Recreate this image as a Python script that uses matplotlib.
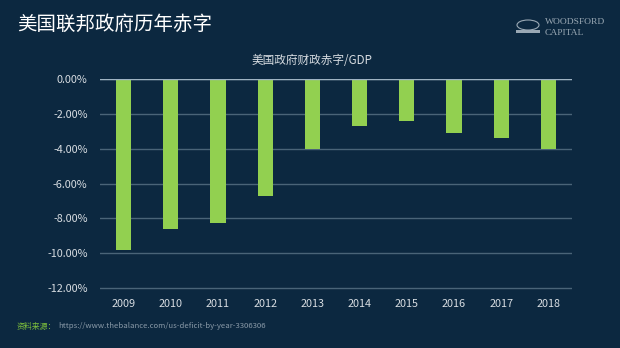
import matplotlib
matplotlib.use("Agg")
import matplotlib.pyplot as plt
from matplotlib.ticker import FuncFormatter
from matplotlib.patches import Ellipse, Rectangle

plt.rcParams['font.family'] = ['Noto Sans CJK SC', 'DejaVu Sans']

years = ['2009', '2010', '2011', '2012', '2013', '2014', '2015', '2016', '2017', '2018']
deficit_pct = [-9.8, -8.6, -8.3, -6.7, -4.0, -2.7, -2.4, -3.1, -3.4, -4.0]
yticks = [0, -2, -4, -6, -8, -10, -12]

title = '美国联邦政府历年赤字'
subtitle = '美国政府财政赤字/GDP'
source_label = '资料来源：'
source_url = 'https://www.thebalance.com/us-deficit-by-year-3306306'

bg = '#0c2840'
bar_color = '#92d050'
grid_color = '#4a6478'
text_color = '#d8dde2'

W, H = 620, 348
fig = plt.figure(figsize=(W / 100, H / 100), dpi=100, facecolor=bg)
ax = fig.add_axes([100 / W, 1 - 289.5 / H, 472 / W, (289.5 - 79.3) / H])
ax.set_facecolor(bg)

x = list(range(len(years)))
ax.bar(x, deficit_pct, width=0.32, color=bar_color, zorder=3)
ax.set_xlim(-0.5, len(years) - 0.5)
ax.set_ylim(-12.1, 0)
ax.set_yticks(yticks)
ax.yaxis.set_major_formatter(FuncFormatter(lambda v, p: f'{v:.2f}%'))
ax.set_xticks(x)
ax.set_xticklabels(years)
ax.grid(axis='y', color=grid_color, linewidth=1.0, zorder=0)
ax.axhline(0, color='#9fb3c3', linewidth=1.0, zorder=4)
for s in ax.spines.values():
    s.set_visible(False)
ax.tick_params(axis='both', length=0, colors=text_color, labelsize=7.8)
ax.tick_params(axis='y', pad=9)
ax.tick_params(axis='x', pad=7)

fig.text(17 / W, 1 - 24.5 / H, title, color='white', fontsize=14, va='center', ha='left')
fig.text(312 / W, 1 - 60 / H, subtitle, color=text_color, fontsize=8.4, va='center', ha='center')

# logo
logo_col = '#9aa8b4'
fig.text(545 / W, 1 - 27.5 / H, 'WOODSFORD\nCAPITAL', color=logo_col, fontsize=6.8,
         family=['Liberation Serif', 'DejaVu Serif'], va='center', ha='left', linespacing=1.45)
fig.patches.append(Ellipse((528 / W, 1 - 25 / H), 22 / W, 10 / H, transform=fig.transFigure,
                           facecolor='none', edgecolor=logo_col, linewidth=0.8))
fig.patches.append(Rectangle((516 / W, 1 - 33 / H), 24 / W, 3 / H, transform=fig.transFigure,
                             facecolor=logo_col, edgecolor='none'))

fig.text(17 / W, 1 - 326.5 / H, source_label, color='#7ec03c', fontsize=5.7, va='center', ha='left')
fig.text(58 / W, 1 - 326.5 / H, source_url, color='#8a9aa8', fontsize=5.6, va='center', ha='left')

fig.savefig('out.png', dpi=100, facecolor=bg)
